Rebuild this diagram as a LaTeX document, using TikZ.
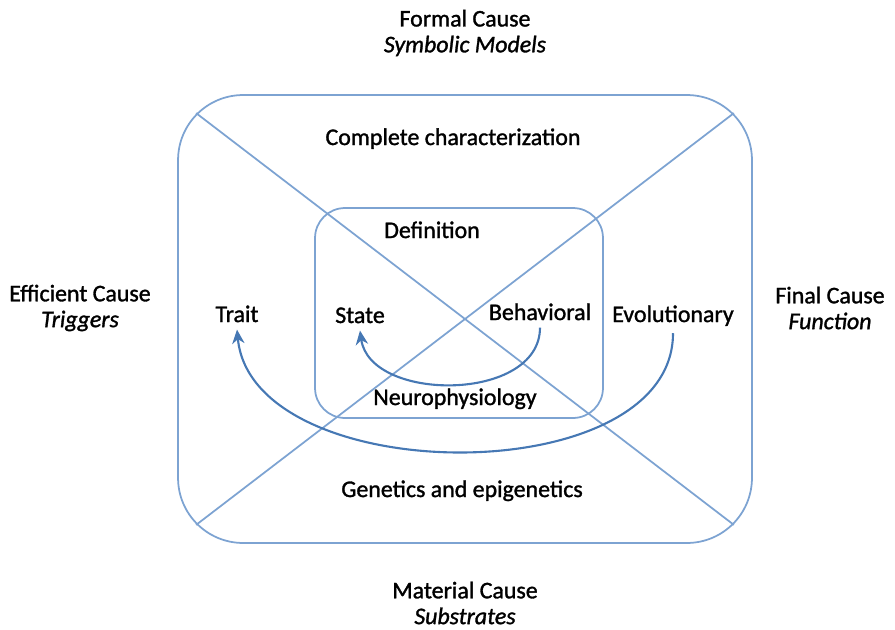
\documentclass[tikz,border=0pt]{standalone}
\usepackage{fontspec}
\setmainfont{Carlito}[FakeBold=1.3]
\usepackage{tikz}
\usetikzlibrary{arrows.meta, calc}
\definecolor{FrameBlue}{RGB}{125,163,210}
\definecolor{ArrowBlue}{RGB}{70,120,180}

\begin{document}
\begin{tikzpicture}[
    x=0.02cm, y=-0.02cm,
    frame/.style={rectangle, draw=FrameBlue, line width=1pt},
    diag/.style={draw=FrameBlue, line width=1pt},
    txt/.style={font=\fontsize{13.6}{14.7}\selectfont, anchor=base, inner sep=4pt},
    cause/.style={font=\fontsize{13.6}{14.7}\selectfont, align=center, inner sep=0pt},
    flow/.style={-{Stealth[length=8pt, width=7pt, inset=2.5pt]}, draw=ArrowBlue, line width=1.2pt}
]
\useasboundingbox (0,0) rectangle (895,629);

% Four causes
\node[cause] (formal) at (465,33) {Formal Cause\\\textit{Symbolic Models}};
\node[cause] (efficient) at (80,308) {Efficient Cause\\\textit{Triggers}};
\node[cause] (final) at (830,308) {Final Cause\\\textit{Function}};
\node[cause] (material) at (465,603) {Material Cause\\\textit{Substrates}};

% Frames
\node[frame, minimum width=11.48cm, minimum height=8.96cm, rounded corners=1.3cm] (outer) at (465,319) {};
\node[frame, minimum width=5.76cm, minimum height=4.2cm, rounded corners=0.6cm] (inner) at (459,313) {};

% Diagonals
\coordinate (nw) at ($(outer.north west)+(19,19)$);
\coordinate (ne) at ($(outer.north east)+(-19,19)$);
\coordinate (sw) at ($(outer.south west)+(19,-19)$);
\coordinate (se) at ($(outer.south east)+(-19,-19)$);
\draw[diag] (nw) -- (se);
\draw[diag] (ne) -- (sw);

% Levels
\node[txt] (complete) at (453,145) {Complete characterization};
\node[txt] (definition) at (432,238) {Definition};
\node[txt] (trait) at (237,322) {Trait};
\node[txt] (state) at (360,323) {State};
\node[txt] (behav) at (540,320) {Behavioral};
\node[txt] (evol) at (673,322) {Evolutionary};
\node[txt] (neuro) at (455,405) {Neurophysiology};
\node[txt] (genetics) at (462,497) {Genetics and epigenetics};

% Arrows
\draw[flow] (behav.south) .. controls +(0,75) and +(10,72) .. (state.south);
\draw[flow] (evol.south) .. controls +(0,160) and +(15,160) .. (trait.south);

\end{tikzpicture}
\end{document}
